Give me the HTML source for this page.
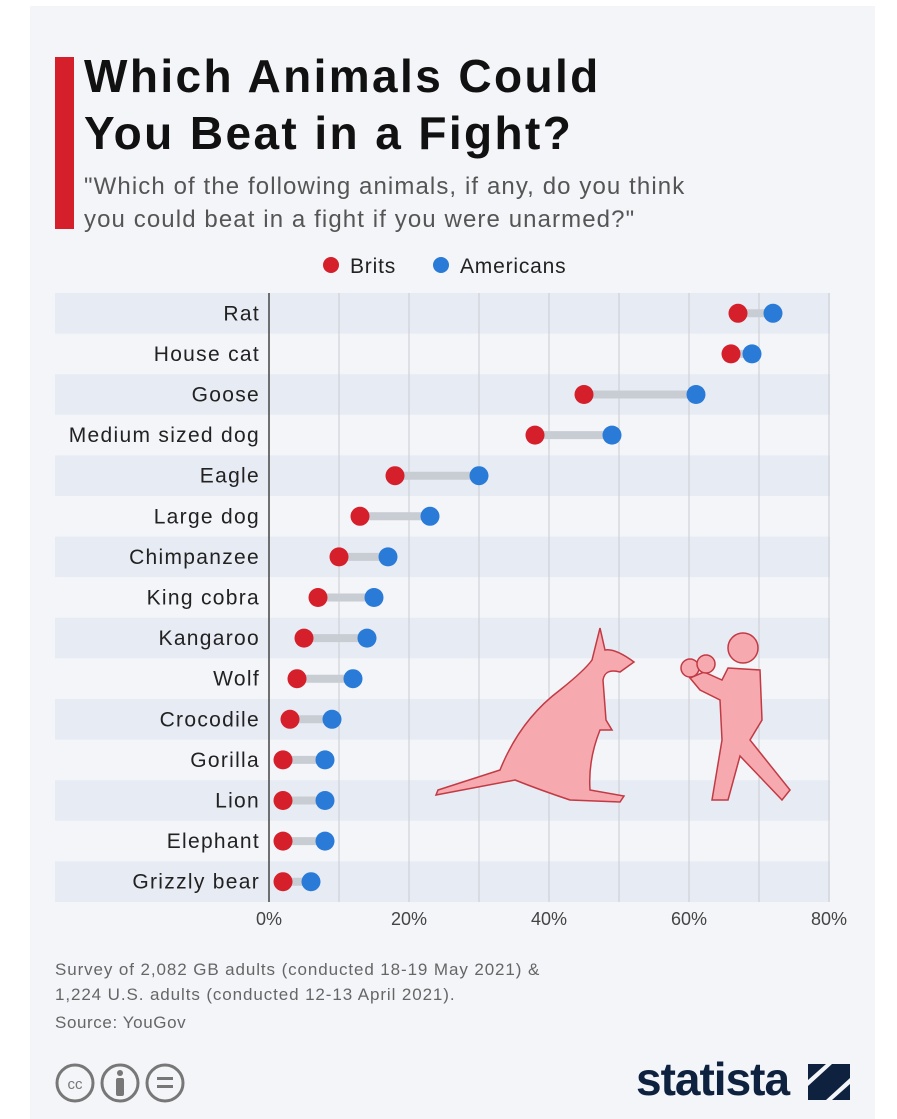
<!DOCTYPE html>
<html><head><meta charset="utf-8"><style>
html,body{margin:0;padding:0;background:#fff;}
body{width:897px;height:1119px;position:relative;overflow:hidden;font-family:"Liberation Sans",sans-serif;}
.card{position:absolute;left:30px;top:6px;width:845px;height:1113px;background:#f3f5f9;}
.t{position:absolute;white-space:nowrap;}
</style></head><body>
<div class="card"></div>
<div class="t" style="left:55px;top:57px;width:19px;height:172px;background:#d51f2a"></div>
<div class="t" style="left:84px;top:48px;font-size:46px;font-weight:bold;line-height:57px;color:#111;letter-spacing:2.4px">Which Animals Could<br>You Beat in a Fight?</div>
<div class="t" style="left:84px;top:170px;font-size:24px;line-height:33px;color:#555;letter-spacing:1.1px">"Which of the following animals, if any, do you think<br>you could beat in a fight if you were unarmed?"</div>
<svg id="chart" width="897" height="1119" style="position:absolute;left:0;top:0"></svg>
<div class="t" style="left:55px;top:957px;font-size:17px;line-height:25px;color:#666;letter-spacing:0.9px">Survey of 2,082 GB adults (conducted 18-19 May 2021) &amp;<br>1,224 U.S. adults (conducted 12-13 April 2021).</div>
<div class="t" style="left:55px;top:1013px;font-size:17px;color:#666;letter-spacing:0.6px">Source: YouGov</div>
<svg class="t" style="left:54px;top:1062px" width="150" height="44">
<g fill="none" stroke="#777" stroke-width="3">
<circle cx="21" cy="21" r="18"/><circle cx="66" cy="21" r="18"/><circle cx="111" cy="21" r="18"/></g>
<text x="21" y="27" font-size="15" text-anchor="middle" fill="#777" font-family="Liberation Sans">cc</text>
<circle cx="66" cy="11" r="3" fill="#777"/><rect x="62" y="16" width="8" height="18" rx="2" fill="#777"/>
<rect x="103" y="15" width="16" height="3" fill="#777"/><rect x="103" y="23" width="16" height="3" fill="#777"/>
</svg>
<div class="t" style="left:636px;top:1052px;font-size:46px;font-weight:bold;color:#0e2240;letter-spacing:-1px">statista</div>
<svg class="t" style="left:808px;top:1064px" width="42" height="36"><polygon points="0,36 0,22 24,0 42,0 42,14 18,36" fill="#0e2240"/><polygon points="0,0 18,0 0,16" fill="#0e2240"/><polygon points="42,36 24,36 42,20" fill="#0e2240"/></svg>
<script>
const categories=["Rat","House cat","Goose","Medium sized dog","Eagle","Large dog","Chimpanzee","King cobra","Kangaroo","Wolf","Crocodile","Gorilla","Lion","Elephant","Grizzly bear"];
const brits=[67,66,45,38,18,13,10,7,5,4,3,2,2,2,2];
const americans=[72,69,61,49,30,23,17,15,14,12,9,8,8,8,6];
const xTicks=[0,20,40,60,80];
const seriesNames=["Brits","Americans"];
const NS="http://www.w3.org/2000/svg";
const svg=document.getElementById('chart');
const x0=269,pxPer=7,top0=293,rowH=40.6;
const X=v=>x0+v*pxPer, Y=i=>top0+rowH*i+rowH/2;
function mk(tag,attrs,parent){const e=document.createElementNS(NS,tag);for(const k in attrs)e.setAttribute(k,attrs[k]);(parent||svg).appendChild(e);return e;}
categories.forEach((c,i)=>{
 const b=mk('rect',{x:55,y:top0+rowH*i,width:775,height:rowH,fill:i%2==0?'#e7ebf3':'#f3f5f9'});
 
 
});
for(let v=0;v<=80;v+=10){const l=mk('line',{x1:X(v),x2:X(v),y1:top0,y2:top0+rowH*categories.length,stroke:v==0?'#444':'#c9ccd2','stroke-width':v==0?1.5:1});
 
 }
xTicks.forEach(v=>{const t=mk('text',{x:X(v),y:925,'font-size':18,'text-anchor':'middle',fill:'#444','font-family':'Liberation Sans'});t.textContent=v+'%';
 
 });
const ill=mk('g',{fill:'#f6a9ae',stroke:'#c23a44','stroke-width':1.5});


mk('path',{d:'M600,628 L605,650 Q615,648 634,662 L620,672 Q605,668 603,680 L606,720 L612,730 L600,730 Q588,760 590,790 L624,796 L620,802 L570,800 Q540,790 515,780 L436,795 L438,790 L500,770 Q520,720 560,690 Q585,670 592,660 Z'},ill);
mk('circle',{cx:743,cy:648,r:15},ill);
mk('path',{d:'M728,668 L760,670 L762,720 L750,740 L790,790 L782,800 L740,756 L728,800 L712,800 L722,740 L720,700 L700,690 L690,678 L704,672 L722,680 Z'},ill);
mk('circle',{cx:690,cy:668,r:9},ill);mk('circle',{cx:706,cy:664,r:9},ill);
categories.forEach((c,i)=>{
 const y=Y(i);
 const t=mk('text',{x:260,y:y+7,'font-size':21,'text-anchor':'end',fill:'#222','font-family':'Liberation Sans','letter-spacing':'1.3'});t.textContent=c;
 
 
 const l=mk('line',{x1:X(brits[i]),x2:X(americans[i]),y1:y,y2:y,stroke:'#c8ccd3','stroke-width':8});
 
 
 const r=mk('circle',{cx:X(brits[i]),cy:y,r:9.5,fill:'#d51f2a'});
 
 
 const a=mk('circle',{cx:X(americans[i]),cy:y,r:9.5,fill:'#2a7ad8'});
 
 
});
[[331,'#d51f2a',350],[441,'#2a7ad8',460]].forEach((p,k)=>{
 const c=mk('circle',{cx:p[0],cy:265,r:8,fill:p[1]});
 
 
 const t=mk('text',{x:p[2],y:273,'font-size':21,fill:'#222','font-family':'Liberation Sans','letter-spacing':'0.8'});t.textContent=seriesNames[k];
 
 
});
</script>
</body></html>
